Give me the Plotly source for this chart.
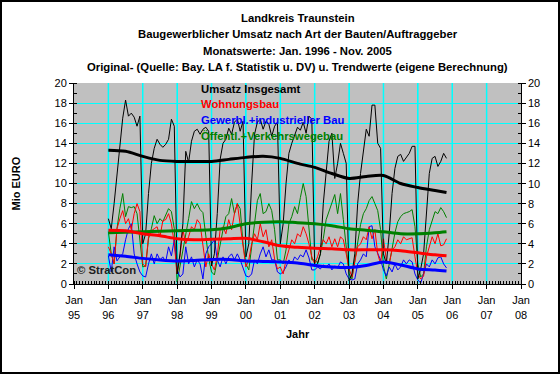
import plotly.graph_objects as go

# ---- data (Mio EURO, monthly Jan 1996 - Nov 2005) ----
start_year = 1996
total = [
    6.5, 5.5, 8.0, 11.0, 14.0, 16.5, 18.3, 16.7, 17.0, 16.6, 15.7, 16.7,   # 1996
    4.0, 5.0, 9.0, 12.0, 13.5, 14.4, 13.9, 13.6, 13.9, 14.4, 16.4, 15.7,   # 1997
    1.0, 3.0, 6.0, 13.2, 12.1, 14.2, 15.2, 15.4, 14.9, 15.4, 15.6, 15.2,   # 1998
    1.8, 3.0, 7.0, 12.4, 14.0, 14.4, 15.5, 14.9, 16.1, 16.4, 15.2, 16.2,   # 1999
    2.7, 4.0, 10.0, 14.9, 16.1, 16.4, 15.4, 16.2, 15.9, 14.7, 15.7, 16.1,  # 2000
    4.0, 6.0, 10.0, 13.0, 14.0, 14.7, 15.6, 15.3, 16.1, 15.0, 16.7, 16.4,  # 2001
    1.8, 2.0, 3.0, 8.0, 11.0, 14.2, 15.0, 10.5, 12.0, 14.0, 13.0, 12.0,   # 2002
    0.3, 1.0, 3.0, 8.0, 11.0, 13.5, 15.4, 14.7, 17.8, 17.8, 14.0, 13.5,   # 2003
    3.0, 2.0, 5.0, 9.0, 11.5, 12.7, 12.9, 12.2, 12.6, 13.0, 13.7, 13.7,   # 2004
    0.5, 1.5, 3.0, 7.0, 11.0, 12.5, 12.7, 11.7, 12.2, 13.0, 12.5,         # 2005
]
wohnungsbau = [
    3.7, 3.0, 2.0, 5.5, 6.5, 7.3, 6.0, 6.5, 5.4, 7.0, 8.0, 7.2,
    2.0, 1.7, 4.7, 5.3, 5.5, 5.7, 4.7, 6.3, 6.4, 7.0, 6.0, 4.0,
    1.0, 2.8, 5.4, 4.0, 4.7, 5.7, 5.4, 6.4, 6.0, 3.7, 1.7, 3.0,
    2.0, 1.4, 2.8, 5.4, 5.7, 5.0, 6.4, 5.4, 7.0, 8.0, 6.0, 4.0,
    1.7, 2.4, 4.0, 5.0, 4.4, 6.0, 4.7, 5.4, 3.7, 4.4, 2.5, 1.5,
    1.7, 1.0, 2.4, 3.4, 4.4, 4.0, 5.0, 4.7, 5.7, 5.0, 4.0, 2.7,
    2.0, 2.7, 3.7, 4.4, 4.0, 4.7, 3.7, 4.5, 3.7, 4.7, 4.4, 3.0,
    1.5, 0.7, 2.4, 3.7, 4.0, 4.7, 4.4, 5.7, 4.5, 5.4, 3.0, 2.0,
    4.5, 2.4, 2.0, 3.4, 3.7, 4.4, 4.0, 4.7, 4.4, 4.5, 4.6, 2.7,
    1.0, 0.5, 0.8, 2.7, 3.7, 4.7, 4.0, 5.0, 3.8, 3.9, 4.5,
]
gewerbl = [
    2.8, 1.2, 3.7, 2.3, 2.7, 3.0, 4.4, 5.5, 6.0, 3.0, 2.0, 1.2,
    0.8, 0.7, 2.0, 3.0, 2.0, 3.0, 2.4, 2.7, 2.2, 3.7, 2.8, 4.4,
    1.4, 0.7, 1.0, 3.7, 2.0, 2.7, 1.7, 2.4, 2.0, 0.5, 3.0, 3.7,
    4.0, 4.4, 2.4, 1.7, 2.7, 2.0, 2.7, 3.0, 2.4, 3.0, 2.4, 1.5,
    0.8, 0.7, 1.0, 2.4, 2.0, 3.0, 3.7, 2.7, 3.4, 2.4, 2.4, 1.2,
    1.0, 1.2, 1.7, 2.4, 2.0, 2.7, 2.4, 2.9, 2.7, 3.4, 2.6, 1.4,
    1.4, 1.7, 1.5, 1.9, 1.7, 2.0, 1.4, 1.8, 1.6, 2.2, 2.0, 1.0,
    0.5, 0.4, 0.5, 2.0, 2.4, 3.0, 2.7, 5.7, 5.8, 3.7, 3.0, 2.4,
    1.4, 0.8, 1.7, 1.2, 2.0, 1.4, 1.7, 2.4, 2.0, 2.4, 2.2, 1.0,
    0.4, 0.1, 1.0, 2.0, 1.7, 2.4, 2.0, 2.6, 2.7, 2.0, 1.6,
]
oeffentl = [
    5.2, 3.0, 2.0, 5.5, 7.5, 9.0, 6.7, 7.7, 7.6, 7.7, 7.0, 4.0,
    1.7, 1.8, 4.5, 5.5, 6.8, 6.0, 6.5, 6.2, 6.8, 7.5, 7.2, 5.5,
    0.2, 1.7, 3.5, 5.0, 6.5, 8.2, 7.5, 8.0, 7.4, 7.1, 5.0, 2.5,
    1.2, 0.9, 2.4, 4.0, 5.4, 6.7, 7.0, 8.5, 7.0, 8.0, 7.5, 4.0,
    2.0, 1.4, 3.7, 6.3, 8.3, 9.0, 7.0, 7.2, 8.0, 7.3, 5.4, 2.4,
    2.4, 2.0, 3.4, 6.0, 6.7, 7.7, 7.0, 8.6, 10.0, 8.7, 5.4, 2.4,
    2.4, 2.1, 3.0, 4.5, 6.4, 7.2, 8.0, 8.9, 7.0, 9.0, 6.4, 3.7,
    1.0, 0.5, 2.4, 4.5, 5.9, 7.0, 7.5, 8.3, 8.7, 8.0, 7.3, 5.4,
    1.8, 0.5, 2.2, 3.5, 5.1, 6.2, 6.7, 7.0, 7.1, 7.2, 7.4, 5.7,
    2.0, 0.7, 1.0, 3.7, 5.4, 6.4, 7.2, 7.0, 7.6, 7.2, 6.6,
]

# trend values at month index (0 = Jan 1996)
trend_month_idx = [0, 6, 12, 18, 24, 30, 36, 42, 48, 54, 60, 66, 72, 78, 84, 90, 96, 102, 108, 114, 118]
trend_total = [13.3, 13.2, 12.7, 12.3, 12.2, 12.2, 12.2, 12.4, 12.6, 12.7, 12.5,
               12.0, 11.6, 11.0, 10.5, 10.7, 10.8, 10.0, 9.6, 9.3, 9.1]
trend_wohn = [5.35, 5.3, 5.0, 4.8, 4.5, 4.4, 4.45, 4.5, 4.55, 4.2, 3.8,
              3.65, 3.55, 3.5, 3.4, 3.4, 3.4, 3.3, 3.1, 2.9, 2.8]
trend_gew = [2.9, 2.75, 2.55, 2.4, 2.3, 2.35, 2.45, 2.45, 2.3, 2.25, 2.2,
             2.1, 1.85, 1.7, 1.65, 1.85, 2.2, 1.9, 1.5, 1.4, 1.3]
trend_oef = [5.1, 5.15, 5.2, 5.25, 5.3, 5.35, 5.4, 5.6, 6.0, 6.15, 6.2,
             6.1, 6.0, 5.8, 5.5, 5.35, 5.2, 5.0, 5.0, 5.1, 5.2]

tick_years = [1995, 1996, 1997, 1998, 1999, 2000, 2001, 2002, 2003, 2004, 2005, 2006, 2007, 2008]
tick_labels = ["Jan<br>95", "Jan<br>96", "Jan<br>97", "Jan<br>98", "Jan<br>99", "Jan<br>00", "Jan<br>01",
               "Jan<br>02", "Jan<br>03", "Jan<br>04", "Jan<br>05", "Jan<br>06", "Jan<br>07", "Jan<br>08"]
y_ticks = [0, 2, 4, 6, 8, 10, 12, 14, 16, 18, 20]

series_names = ["Umsatz Insgesamt", "Wohnungsbau", "Gewerbl.+industrieller Bau", "Öffentl.+Verkehrswegebau"]
colors = ["#000000", "#FF0000", "#0000FF", "#008000"]

title_lines = [
    "Landkreis Traunstein",
    "Baugewerblicher Umsatz nach Art der Bauten/Auftraggeber",
    "Monatswerte: Jan. 1996 - Nov. 2005",
    "Original- (Quelle: Bay. LA f. Statistik u. DV) u. Trendwerte (eigene Berechnung)",
]

# ---- figure ----
W, H = 560, 374
L, R, T, B = 74, 39, 83, 90
pw, ph = W - L - R, H - T - B
FONT = "Liberation Sans, Arial, sans-serif"
GRID = "#00FFFF"

def month_pos(i):
    return start_year + i / 12.0

x_raw = [month_pos(i) for i in range(len(total))]
x_trend = [month_pos(i) for i in trend_month_idx]

fig = go.Figure()
raws = [total, wohnungsbau, gewerbl, oeffentl]
trends = [trend_total, trend_wohn, trend_gew, trend_oef]

for vals, c in zip(raws[::-1], colors[::-1]):
    fig.add_trace(go.Scatter(x=x_raw, y=vals, mode="lines",
                             line=dict(color=c, width=1), showlegend=False, hoverinfo="skip"))
for vals, c in zip(trends[::-1], colors[::-1]):
    fig.add_trace(go.Scatter(x=x_trend, y=vals, mode="lines",
                             line=dict(color=c, width=3, shape="spline", smoothing=0.8),
                             showlegend=False, hoverinfo="skip"))

def px_x(p):
    return (p - L) / pw

def px_y(p):
    return (H - B - p) / ph

annotations = []
for i, t in enumerate(title_lines):
    annotations.append(dict(text="<b>%s</b>" % t, x=0.5, y=px_y(18 + i * 16.3),
                            xref="paper", yref="paper", showarrow=False,
                            xanchor="center", yanchor="middle",
                            font=dict(family=FONT, size=11.3, color="black")))
for i, (n, c) in enumerate(zip(series_names, colors)):
    annotations.append(dict(text="<b>%s</b>" % n, x=px_x(199), y=px_y(88.5 + i * 15.7),
                            xref="paper", yref="paper", showarrow=False,
                            xanchor="left", yanchor="middle",
                            font=dict(family=FONT, size=11.3, color=c)))
annotations.append(dict(text="<b>© StratCon</b>", x=px_x(75), y=px_y(270),
                        xref="paper", yref="paper", showarrow=False,
                        xanchor="left", yanchor="middle",
                        font=dict(family=FONT, size=11.3, color="#202020")))
annotations.append(dict(text="<b>Jahr</b>", x=0.5, y=px_y(334),
                        xref="paper", yref="paper", showarrow=False,
                        xanchor="center", yanchor="middle",
                        font=dict(family=FONT, size=11, color="black")))
annotations.append(dict(text="<b>Mio EURO</b>", x=px_x(15), y=0.5, textangle=-90,
                        xref="paper", yref="paper", showarrow=False,
                        xanchor="center", yanchor="middle",
                        font=dict(family=FONT, size=11, color="black")))
# right-hand axis labels (same scale as the left axis)
for v in y_ticks:
    annotations.append(dict(text=str(v), x=px_x(526), y=v, xref="paper", yref="y",
                            showarrow=False, xanchor="left", yanchor="middle",
                            font=dict(family=FONT, size=11, color="black")))

shapes = [dict(type="rect", xref="paper", yref="paper",
               x0=px_x(1), x1=px_x(W - 1), y0=px_y(H - 1), y1=px_y(1),
               line=dict(color="black", width=2), layer="above")]
# vertical year grid lines placed through the x axis scale
for yv in tick_years[1:-1]:
    shapes.append(dict(type="line", xref="x", yref="paper", x0=yv, x1=yv, y0=0, y1=1,
                       line=dict(color=GRID, width=1.5), layer="below"))

fig.update_layout(
    width=W, height=H,
    margin=dict(l=L, r=R, t=T, b=B),
    paper_bgcolor="white", plot_bgcolor="#C0C0C0",
    showlegend=False,
    font=dict(family=FONT, size=11, color="black"),
    xaxis=dict(range=[tick_years[0], tick_years[-1]],
               tickmode="array", tickvals=tick_years, ticktext=tick_labels,
               ticks="outside", ticklen=4, tickcolor="black", ticklabelstandoff=2,
               showgrid=True, gridcolor=GRID, gridwidth=1,
               showline=True, linecolor="black", linewidth=1,
               minor=dict(dtick=1 / 12.0, tick0=tick_years[0], ticks="inside", ticklen=3,
                          tickcolor="black", showgrid=False),
               zeroline=False,
               tickfont=dict(family=FONT, size=11, color="black"), fixedrange=True),
    yaxis=dict(range=[0, 20], tickmode="array", tickvals=y_ticks, ticks="outside", ticklen=4,
               tickcolor="black", showline=True, linecolor="black", linewidth=1,
               mirror="ticks", showgrid=True, gridcolor=GRID, gridwidth=1,
               tickfont=dict(family=FONT, size=11, color="black"),
               minor=dict(dtick=1, ticks="inside", ticklen=3, tickcolor="black", showgrid=False),
               zeroline=False, fixedrange=True),
    annotations=annotations,
    shapes=shapes,
)

fig.write_html("out.html", config={"displayModeBar": False},
               post_script="document.body.style.margin='0';document.body.style.overflow='hidden';")
